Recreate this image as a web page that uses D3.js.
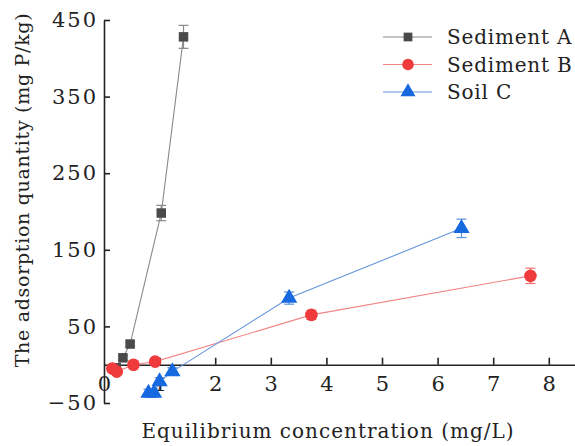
<!DOCTYPE html>
<html lang="en">
<head>
    <meta charset="UTF-8">
    <title>Adsorption isotherms</title>
    <script src="https://d3js.org/d3.v7.min.js"></script>
    <style>
        body { margin: 0; background: #fff; overflow: hidden; }
        svg text { font-family: 'DejaVu Serif', serif; fill: #222; }
    </style>
</head>
<body>
<div id="chart"></div>
<script>
    // equilibrium concentration (mg/L) and adsorption (mg P/kg)
    const sedAX = [0.22, 0.34, 0.47, 1.03, 1.43];
    const sedAY = [-4, 9, 27, 198, 428];
    const sedAErr = [3, 3, 3, 10, 15];

    const sedBX = [0.15, 0.23, 0.53, 0.92, 3.73, 7.67];
    const sedBY = [-5, -9, 0, 4, 65, 116];
    const sedBErr = [3, 3, 3, 3, 6, 10];

    const soilCX = [0.8, 0.9, 1.0, 1.23, 3.33, 6.43];
    const soilCY = [-37, -37, -22, -9, 87, 178];
    const soilCErr = [5, 5, 5, 5, 8, 12];

    const xTicks = [0, 1, 2, 3, 4, 5, 6, 7, 8];
    const yTicks = [-50, 50, 150, 250, 350, 450];

    const series = [
        { name: 'Sediment A', xs: sedAX, ys: sedAY, err: sedAErr, marker: 'square', fill: '#4a4a4a', line: '#8a8a8a', bar: '#8a8a8a' },
        { name: 'Sediment B', xs: sedBX, ys: sedBY, err: sedBErr, marker: 'circle', fill: '#ef3b3b', line: '#f08585', bar: '#f07070' },
        { name: 'Soil C', xs: soilCX, ys: soilCY, err: soilCErr, marker: 'triangle', fill: '#1769e0', line: '#6596dc', bar: '#5a90dc' }
    ];

    const width = 575, height = 446;
    const svg = d3.select('#chart').append('svg')
        .attr('width', width).attr('height', height);

    const x = d3.scaleLinear().domain([0, 8.5]).range([104, 576.6]);
    const y = d3.scaleLinear().domain([-50, 450]).range([403, 20]);

    // y axis (left spine, ticks pointing in)
    const yAxis = svg.append('g')
        .attr('transform', `translate(${x(0)},0)`)
        .call(d3.axisLeft(y).tickValues(yTicks).tickSizeInner(-6).tickSizeOuter(0).tickPadding(6)
            .tickFormat(d => d < 0 ? '\u2212' + Math.abs(d) : d));
    yAxis.select('.domain').attr('stroke', '#222').attr('stroke-width', 1.6);
    yAxis.selectAll('.tick line').attr('stroke', '#222').attr('stroke-width', 1.6);
    yAxis.selectAll('text').style('font-size', '21px').attr('letter-spacing', '2px').attr('fill', '#222');

    // x axis drawn along y = 0
    const xAxis = svg.append('g')
        .attr('transform', `translate(0,${y(0)})`)
        .call(d3.axisBottom(x).tickValues(xTicks).tickSizeInner(-7).tickSizeOuter(0).tickPadding(11));
    xAxis.select('.domain').attr('stroke', '#222').attr('stroke-width', 1.6);
    xAxis.selectAll('.tick line').attr('stroke', '#222').attr('stroke-width', 1.6);
    xAxis.selectAll('.tick').filter(d => d === 0).select('line').remove();
    xAxis.selectAll('text').style('font-size', '21px').attr('fill', '#222');

    // axis titles
    svg.append('text')
        .attr('x', 328).attr('y', 438)
        .attr('text-anchor', 'middle')
        .style('font-size', '20px')
        .attr('letter-spacing', '1px')
        .text('Equilibrium concentration (mg/L)');

    svg.append('text')
        .attr('transform', `translate(29,190) rotate(-90)`)
        .attr('text-anchor', 'middle')
        .style('font-size', '19px')
        .attr('letter-spacing', '0.7px')
        .text('The adsorption quantity (mg P/kg)');

    const symbolFor = m => m === 'square' ? d3.symbolSquare : m === 'circle' ? d3.symbolCircle : d3.symbolTriangle;
    const sizeFor = m => m === 'square' ? 90 : m === 'circle' ? 125 : 115;

    const line = d3.line().x(d => x(d.x)).y(d => y(d.y));

    series.forEach(s => {
        const pts = s.xs.map((v, i) => ({ x: v, y: s.ys[i], e: s.err[i] }));
        const g = svg.append('g');

        g.append('path')
            .datum(pts)
            .attr('d', line)
            .attr('fill', 'none')
            .attr('stroke', s.line)
            .attr('stroke-width', 1.1);

        // error bars
        const eb = g.selectAll('.eb').data(pts).join('g');
        eb.append('line')
            .attr('x1', d => x(d.x)).attr('x2', d => x(d.x))
            .attr('y1', d => y(d.y + d.e)).attr('y2', d => y(d.y - d.e))
            .attr('stroke', s.bar).attr('stroke-width', 1.2);
        eb.selectAll('.cap').data(d => [d.y + d.e, d.y - d.e].map(v => ({ x: d.x, v })))
            .join('line')
            .attr('x1', d => x(d.x) - 5).attr('x2', d => x(d.x) + 5)
            .attr('y1', d => y(d.v)).attr('y2', d => y(d.v))
            .attr('stroke', s.bar).attr('stroke-width', 1.2);

        g.selectAll('.pt').data(pts).join('path')
            .attr('transform', d => `translate(${x(d.x)},${y(d.y)})`)
            .attr('d', d3.symbol().type(symbolFor(s.marker)).size(sizeFor(s.marker)))
            .attr('fill', s.fill);
    });

    // legend
    const legend = svg.append('g');
    series.forEach((s, i) => {
        const ly = 37 + i * 27.5;
        legend.append('line')
            .attr('x1', 383).attr('x2', 432).attr('y1', ly).attr('y2', ly)
            .attr('stroke', s.line).attr('stroke-width', 1.1);
        legend.append('path')
            .attr('transform', `translate(408,${ly})`)
            .attr('d', d3.symbol().type(symbolFor(s.marker)).size(sizeFor(s.marker) * 0.85))
            .attr('fill', s.fill);
        legend.append('text')
            .attr('x', 447).attr('y', ly + 7)
            .style('font-size', '20px')
            .attr('letter-spacing', '0.8px')
            .text(s.name);
    });
</script>
</body>
</html>
